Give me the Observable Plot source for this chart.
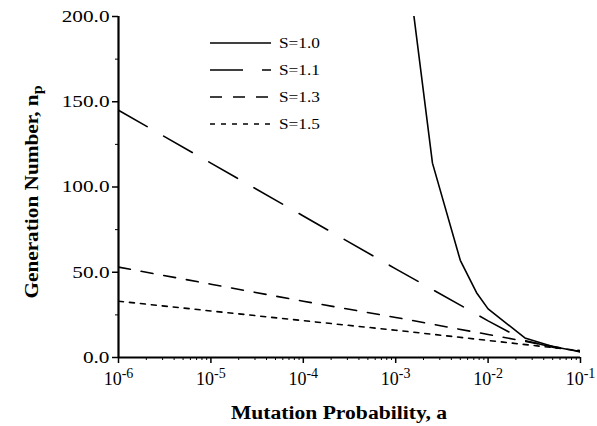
<!DOCTYPE html>
<html>
<head>
<meta charset="utf-8">
<script src="https://cdn.jsdelivr.net/npm/d3@7"></script>
<script src="https://cdn.jsdelivr.net/npm/@observablehq/plot@0.6"></script>
<style>
  html, body { margin: 0; padding: 0; background: #fff; }
  #chart svg { display: block; }
</style>
</head>
<body>
<div id="chart"></div>
<script>
// ---- data ----
const aS10 = [0.001, 0.0025, 0.005, 0.0075, 0.01, 0.025, 0.05, 0.1];
const nS10 = [285, 114, 57, 38, 28.5, 11.5, 6.5, 3.3];
const aS11 = [1e-6, 1e-5, 1e-4, 1e-3, 1e-2, 0.025, 0.05, 0.1];
const nS11 = [145, 114, 83, 52, 21.5, 10, 6, 3.3];
const aS13 = [1e-6, 1e-5, 1e-4, 1e-3, 1e-2, 0.1];
const nS13 = [53, 43, 33, 23.5, 13.5, 3.5];
const aS15 = [1e-6, 1e-5, 1e-4, 1e-3, 1e-2, 0.1];
const nS15 = [33, 27.3, 21.6, 16, 10, 4];
const seriesNames = ["S=1.0", "S=1.1", "S=1.3", "S=1.5"];
const dashes = ["none", "33,19", "12,11", "5,6"];
const xMajor = [1e-6, 1e-5, 1e-4, 1e-3, 1e-2, 1e-1];
const yMajor = [0, 50, 100, 150, 200];
const yMinor = [25, 75, 125, 175];

const toRows = (a, n) => a.map((v, i) => ({a: v, n: n[i]}));
const series = [toRows(aS10, nS10), toRows(aS11, nS11), toRows(aS13, nS13), toRows(aS15, nS15)];
const xMinor = [];
for (let e = -6; e < -1; e++) for (let k = 2; k <= 9; k++) xMinor.push(k * Math.pow(10, e));

const fontFamily = "'Liberation Serif', 'Times New Roman', serif";

const chart = Plot.plot({
  width: 597,
  height: 426,
  marginLeft: 118,
  marginRight: 17,
  marginTop: 16,
  marginBottom: 69,
  style: {fontFamily, fontSize: "17px", color: "#000", background: "#fff"},
  x: {type: "log", domain: [1e-6, 0.1]},
  y: {domain: [0, 200]},
  marks: [
    Plot.axisY({ticks: yMajor, tickSize: 6, tickPadding: 3, tickFormat: d3.format(".1f"), label: null, strokeWidth: 1.5, fontSize: 17}),
    Plot.axisY({ticks: yMinor, tickSize: 3, tickFormat: () => "", label: null}),
    Plot.axisX({ticks: xMajor, tickSize: 6, tickPadding: 9, tickFormat: d => `10^${Math.round(Math.log10(d))}`, label: null, strokeWidth: 1.5, fontSize: 18}),
    Plot.axisX({ticks: xMinor, tickSize: 3, tickFormat: () => "", label: null}),
    ...series.map((rows, i) => Plot.line(rows, {
      x: "a", y: "n", stroke: "#000", strokeWidth: 1.6,
      strokeDasharray: dashes[i], clip: true
    })),
    Plot.ruleX([1e-6], {strokeWidth: 2.2}),
    Plot.ruleY([0], {strokeWidth: 2.2})
  ]
});

document.getElementById("chart").appendChild(chart);
const svg = d3.select(chart);

// widen glyphs horizontally (the reference typeface is set wide)
function stretch(node, factor) {
  const w = node.getComputedTextLength();
  if (w > 0) {
    node.setAttribute("textLength", (w * factor).toFixed(1));
    node.setAttribute("lengthAdjust", "spacingAndGlyphs");
  }
}

// y tick labels, widened
svg.selectAll('g[aria-label="y-axis tick label"] text').each(function() { stretch(this, 1.25); });

// superscript exponents on x tick labels
svg.selectAll('g[aria-label="x-axis tick label"] text').each(function() {
  const t = d3.select(this);
  const s = t.text();
  if (!s.startsWith("10^")) return;
  const exp = s.slice(3);
  t.text("");
  t.append("tspan").text("10");
  t.append("tspan").attr("dy", "-0.5em").attr("font-size", "0.78em").text(exp);
});

// axis titles
const xt = svg.append("text")
  .attr("x", 339).attr("y", 419)
  .attr("text-anchor", "middle")
  .attr("font-family", fontFamily)
  .attr("font-weight", "bold")
  .attr("font-size", 18)
  .text("Mutation Probability, a");
stretch(xt.node(), 1.2);

const yt = svg.append("text")
  .attr("transform", "translate(38,192) rotate(-90)")
  .attr("text-anchor", "middle")
  .attr("font-family", fontFamily)
  .attr("font-weight", "bold")
  .attr("font-size", 19);
yt.append("tspan").text("Generation Number, n");
yt.append("tspan").attr("dy", "0.3em").attr("font-size", "0.75em").text("p");
stretch(yt.node(), 1.12);

// legend
const lg = svg.append("g").attr("font-family", fontFamily).attr("font-size", 15).attr("text-anchor", "start");
seriesNames.forEach((name, i) => {
  const y = 43 + 27 * i;
  lg.append("line")
    .attr("x1", 210).attr("x2", 271).attr("y1", y).attr("y2", y)
    .attr("stroke", "#000").attr("stroke-width", 1.6)
    .attr("stroke-dasharray", dashes[i]);
  const t = lg.append("text").attr("x", 279).attr("y", y + 5).attr("text-anchor", "start").text(name);
  stretch(t.node(), 1.15);
});
</script>
</body>
</html>
